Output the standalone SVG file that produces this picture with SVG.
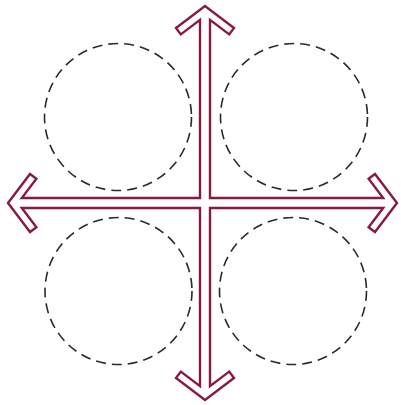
<svg xmlns="http://www.w3.org/2000/svg" width="401" height="405" viewBox="0 0 401 405">
  <style>
    .quad { fill: none; stroke: #2a2a2a; stroke-width: 1.6; stroke-dasharray: 10 6; }
    .axis { fill: #ffffff; stroke: #8a1a3c; stroke-width: 2.4; stroke-linejoin: miter; }
  </style>
  <rect x="0" y="0" width="401" height="405" fill="#ffffff"/>
  <g id="quadrant-top-left"><circle class="quad" cx="118" cy="117" r="73.5"/></g>
  <g id="quadrant-top-right"><circle class="quad" cx="294" cy="117" r="73.5"/></g>
  <g id="quadrant-bottom-left"><circle class="quad" cx="118.5" cy="291" r="73.5"/></g>
  <g id="quadrant-bottom-right"><circle class="quad" cx="293" cy="291" r="73.5"/></g>
  <g id="connectors">
    <path class="axis" d="M210,19.8 L210,198 L383.2,198 L368.6,178.8 L375,174 L397,203 L375,232 L368.6,227.2 L383.2,208 L210,208 L210,386.2 L229.2,371.6 L234,378 L205,400 L176,378 L180.8,371.6 L200,386.2 L200,208 L21.8,208 L36.4,227.2 L30,232 L8,203 L30,174 L36.4,178.8 L21.8,198 L200,198 L200,19.8 L180.8,34.4 L176,28 L205,6 L234,28 L229.2,34.4 Z"/>
  </g>
</svg>
